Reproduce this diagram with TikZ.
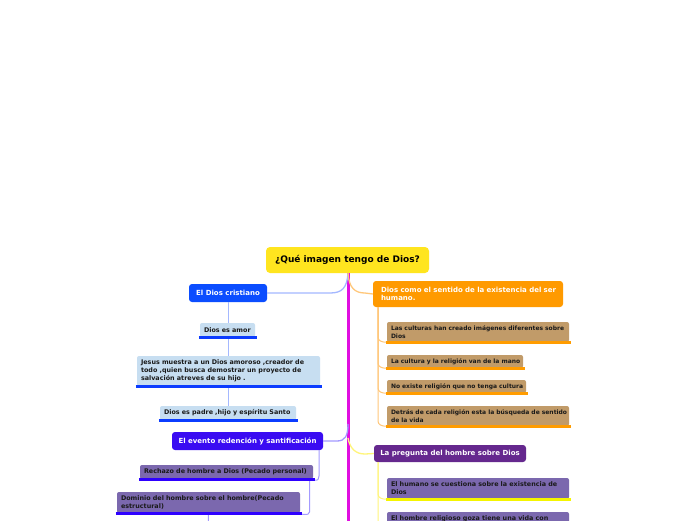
\documentclass[tikz,border=0pt]{standalone}
\usepackage{fontspec}
\setmainfont{DejaVu Sans}
\definecolor{titlefill}{HTML}{FFE51F}
\definecolor{trunk}{HTML}{E10FE1}
\definecolor{dcfill}{HTML}{0B4DFF}
\definecolor{dcline}{HTML}{A4B8FF}
\definecolor{dcchild}{HTML}{C7DEF1}
\definecolor{dcul}{HTML}{0B3CFF}
\definecolor{evfill}{HTML}{3A0CF2}
\definecolor{evline}{HTML}{A49AFF}
\definecolor{evul}{HTML}{2E00FF}
\definecolor{purplechild}{HTML}{7B68AE}
\definecolor{snfill}{HTML}{FF9A00}
\definecolor{snline}{HTML}{FFC77A}
\definecolor{snchild}{HTML}{C19B69}
\definecolor{snul}{HTML}{FF9C00}
\definecolor{prfill}{HTML}{65288E}
\definecolor{prline}{HTML}{FFF57A}
\definecolor{prul}{HTML}{F5F500}
\definecolor{childtext}{HTML}{1A1A1A}
\newcommand\boxline[1]{\mbox{#1}}
\tikzset{
  parentbox/.style={rectangle, rounded corners=3pt, inner sep=0pt, text=white,
    font=\fontsize{7}{8.6}\selectfont\bfseries},
  childbox/.style={rectangle, rounded corners=2pt, inner sep=0pt, text=childtext,
    align=left, font=\fontsize{6.4}{8}\selectfont\bfseries},
  smallchild/.style={childbox, font=\fontsize{6}{8}\selectfont\bfseries},
  ul/.style={line width=2.6pt},
  conn/.style={line width=1.3pt},
  sub/.style={line width=1pt},
}
\begin{document}
\begin{tikzpicture}[x=1pt,y=-1pt]
\useasboundingbox (0,0) rectangle (696,520);
\clip (0,0) rectangle (696,520);
\fill[white] (0,0) rectangle (696,520);

% title
\node[rectangle, rounded corners=4pt, inner sep=0pt, fill=titlefill, minimum width=163pt, minimum height=26pt,
  font=\fontsize{9}{11}\selectfont\bfseries, align=center] (title) at (347.5,260) {¿Qué imagen tengo de Dios?};

% trunk continuing below
\coordinate (tend) at (348,540);
\coordinate (m1) at (348,424);
\coordinate (m2) at (348,438);
\draw[trunk, line width=3pt] (title.south -| tend) -- (tend);

% left branch 1
\node[parentbox, fill=dcfill, minimum width=78pt, minimum height=18pt, align=center] (dc) at (228,293) {El Dios cristiano};
\draw[dcline, conn] (dc.east) -- (330,293) .. controls (342,293) and (347,288) .. (title.south -| tend);
\draw[dcline, sub] (dc.south) -- (228,410);

\node[childbox, fill=dcchild, minimum width=55pt, minimum height=14pt, text width=47pt] (amor) at (227.5,330) {\boxline{Dios es amor}};
\node[childbox, fill=dcchild, minimum width=183pt, minimum height=30pt, text width=175pt] (jesus) at (228.5,371)
  {\boxline{Jesus muestra a un Dios amoroso ,creador de}\\\boxline{todo ,quien busca demostrar un proyecto de}\\\boxline{salvación atreves de su hijo .}};
\node[childbox, fill=dcchild, minimum width=136pt, minimum height=14pt, text width=128pt] (padre) at (228,413) {\boxline{Dios es padre ,hijo y espíritu Santo}};
\foreach \n in {amor,jesus,padre}
  \draw[dcul, ul] ([xshift=-1pt,yshift=-0.3pt]\n.south west) -- ([xshift=1.5pt,yshift=-0.3pt]\n.south east);

% left branch 2
\node[parentbox, fill=evfill, minimum width=151pt, minimum height=18pt, align=center] (evento) at (247.5,441) {El evento redención y santificación};
\draw[evline, conn] (evento.east) -- (337,441) .. controls (345,441) and (348,436) .. (m1);

\node[childbox, fill=purplechild, minimum width=173pt, minimum height=14pt, text width=165pt] (rechazo) at (226.5,472) {\boxline{Rechazo de hombre a Dios (Pecado personal)}};
\node[childbox, fill=purplechild, minimum width=183pt, minimum height=21pt, text width=175pt] (dominio) at (208.5,502.5) {\boxline{Dominio del hombre sobre el hombre(Pecado}\\\boxline{estructural)}};
\coordinate (rx) at (319,0);
\coordinate (dx) at (309.5,0);
\draw[evline, sub] (evento.south -| rx) -- (319,476) .. controls (319,479) and (318,480.5) .. ([xshift=1.5pt,yshift=-1pt]rechazo.south east);
\draw[evline, sub] ([yshift=-1pt]rechazo.south -| dx) -- (309.5,512) .. controls (309.5,514) and (308,515) .. ([xshift=1.5pt,yshift=-1pt]dominio.south east);
\coordinate (dbelow) at (208,540);
\draw[evline, sub] (dominio.south) -- (dbelow);
\foreach \n in {rechazo,dominio}
  \draw[evul, ul] ([xshift=-1pt,yshift=-0.3pt]\n.south west) -- ([xshift=1.5pt,yshift=-0.3pt]\n.south east);

% right branch 1
\node[parentbox, fill=snfill, minimum width=190pt, minimum height=26pt, text width=174pt, align=left] (sentido) at (468,294)
  {\boxline{Dios como el sentido de la existencia del ser}\\\boxline{humano.}};
\draw[snline, conn] (title.south -| tend) .. controls (349,288) and (355,293) .. (365,293) -- (sentido.west);

\node[smallchild, fill=snchild, minimum width=182pt, minimum height=20pt, text width=174pt] (culturas) at (478,332)
  {\boxline{Las culturas han creado imágenes diferentes sobre}\\\boxline{Dios}};
\node[smallchild, fill=snchild, minimum width=136pt, minimum height=13pt, text width=128pt] (mano) at (455,361.5) {\boxline{La cultura y la religión van de la mano}};
\node[smallchild, fill=snchild, minimum width=139pt, minimum height=13pt, text width=131pt] (noexiste) at (456.5,386.5) {\boxline{No existe religión que no tenga cultura}};
\node[smallchild, fill=snchild, minimum width=182pt, minimum height=20pt, text width=174pt] (detras) at (478,416)
  {\boxline{Detrás de cada religión esta la búsqueda de sentido}\\\boxline{de la vida}};
\coordinate (sx) at (378,0);
\foreach \n in {culturas,mano,noexiste,detras}{
  \draw[snline, sub] (sentido.south -| sx) -- ([yshift=5pt]\n.south west -| sx) to[out=-90,in=180] ([xshift=-1pt]\n.south west);
  \draw[snul, ul] ([xshift=-1pt,yshift=-0.3pt]\n.south west) -- ([xshift=1.5pt,yshift=-0.3pt]\n.south east);
}

% right branch 2
\node[parentbox, fill=prfill, minimum width=152pt, minimum height=17pt, align=center] (pregunta) at (450,453.5) {La pregunta del hombre sobre Dios};
\draw[prline, conn] (m2) .. controls (350,449) and (356,454) .. (365,454) -- (pregunta.west);

\node[childbox, fill=purplechild, minimum width=182pt, minimum height=21pt, text width=174pt] (humano) at (478,488.5)
  {\boxline{El humano se cuestiona sobre la existencia de}\\\boxline{Dios}};
\node[childbox, fill=purplechild, minimum width=182pt, minimum height=22pt, text width=174pt] (religioso) at (478,523)
  {\boxline{El hombre religioso goza tiene una vida con}\\\strut};
\coordinate (px) at (378,0);
\foreach \n in {humano,religioso}{
  \draw[prline, sub] (pregunta.south -| px) -- ([yshift=5pt]\n.south west -| px) to[out=-90,in=180] ([xshift=-1pt]\n.south west);
  \draw[prul, ul] ([xshift=-1pt,yshift=-0.3pt]\n.south west) -- ([xshift=1.5pt,yshift=-0.3pt]\n.south east);
}
\end{tikzpicture}
\end{document}
